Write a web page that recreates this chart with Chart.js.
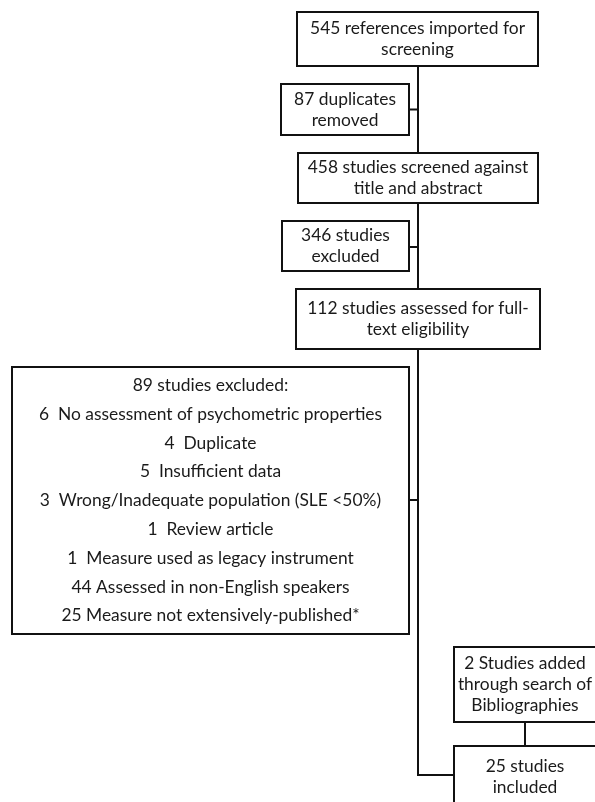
<!DOCTYPE html>
<html>
<head>
<meta charset="utf-8">
<script src="https://cdn.jsdelivr.net/npm/chart.js@4.4.0/dist/chart.umd.min.js"></script>
<style>
  html, body { margin: 0; padding: 0; background: #fff; }
  #wrap { width: 595px; height: 802px; }
</style>
</head>
<body>
<div id="wrap"><canvas id="flow" width="595" height="802"></canvas></div>
<script>
// flow stages (text per box, one entry per line)
let stageText = [
    ['545 references imported for', 'screening'],
    ['87 duplicates', 'removed'],
    ['458 studies screened against', 'title and abstract'],
    ['346 studies', 'excluded'],
    ['112 studies assessed for full-', 'text eligibility'],
    ['89 studies excluded:'],
    ['2 Studies added', 'through search of', 'Bibliographies'],
    ['25 studies', 'included']
];

// reasons for exclusion at full-text stage
let exclusionCounts = [6, 4, 5, 3, 1, 1, 44, 25];
let exclusionReasons = [
    'No assessment of psychometric properties',
    'Duplicate',
    'Insufficient data',
    'Wrong/Inadequate population (SLE <50%)',
    'Review article',
    'Measure used as legacy instrument',
    'Assessed in non-English speakers',
    'Measure not extensively-published*'
];

// layout: box corners in page units [x0, y0, x1, y1]
let boxes = [
    [297, 12, 538, 66],
    [281, 84, 409, 135],
    [298, 153, 538, 203],
    [282, 221, 409, 271],
    [296, 289, 540, 349],
    [12, 367, 409, 634],
    [454, 647, 597, 722],
    [454, 746, 597, 812]
];
// connector polylines
let links = [
    [[418, 66], [418, 775], [454, 775]],
    [[409, 109.5], [418, 109.5]],
    [[409, 247], [418, 247]],
    [[409, 500], [418, 500]],
    [[525, 722], [525, 746]]
];

const FONT = '17.4px Lato, "Open Sans", sans-serif';
const LINE_H = 21;
const BIG_LINE_H = 28.8;

function reasonLines() {
    let res = stageText[5].slice();
    exclusionCounts.forEach((n, i) => {
        res.push(n + (n < 10 ? '  ' : ' ') + exclusionReasons[i]);
    });
    return res;
}

const flowPlugin = {
    id: 'flowPlugin',
    afterDraw(chart) {
        let ctx = chart.ctx;
        let sx = chart.scales.x, sy = chart.scales.y;
        let px = v => sx.getPixelForValue(v);
        let py = v => sy.getPixelForValue(v);

        ctx.save();
        ctx.strokeStyle = '#111';
        ctx.lineWidth = 2;

        links.forEach(pts => {
            ctx.beginPath();
            pts.forEach((p, i) => {
                i === 0 ? ctx.moveTo(px(p[0]), py(p[1])) : ctx.lineTo(px(p[0]), py(p[1]));
            });
            ctx.stroke();
        });

        ctx.fillStyle = '#fff';
        boxes.forEach(b => {
            let x0 = px(b[0]), y0 = py(b[1]), x1 = px(b[2]), y1 = py(b[3]);
            ctx.fillRect(x0, y0, x1 - x0, y1 - y0);
            ctx.strokeRect(x0, y0, x1 - x0, y1 - y0);
        });

        ctx.fillStyle = '#1a1a1a';
        ctx.font = FONT;
        ctx.textAlign = 'center';
        ctx.textBaseline = 'middle';

        boxes.forEach((b, i) => {
            let lines = i === 5 ? reasonLines() : stageText[i];
            let lh = i === 5 ? BIG_LINE_H : LINE_H;
            let cx = px((b[0] + Math.min(b[2], 596)) / 2);
            let cy = (i === 7) ? py(777) : py((b[1] + b[3]) / 2);
            let top = cy - (lines.length - 1) * lh / 2;
            lines.forEach((t, k) => ctx.fillText(t, cx, top + k * lh));
        });
        ctx.restore();
    }
};

let chart = new Chart(document.getElementById('flow').getContext('2d'), {
    type: 'scatter',
    data: { datasets: [{ data: [] }] },
    options: {
        responsive: false,
        animation: false,
        layout: { padding: 0 },
        plugins: { legend: { display: false }, tooltip: { enabled: false } },
        scales: {
            x: { type: 'linear', min: 0, max: 595, display: false },
            y: { type: 'linear', min: 0, max: 802, reverse: true, display: false }
        }
    },
    plugins: [flowPlugin]
});
</script>
</body>
</html>
